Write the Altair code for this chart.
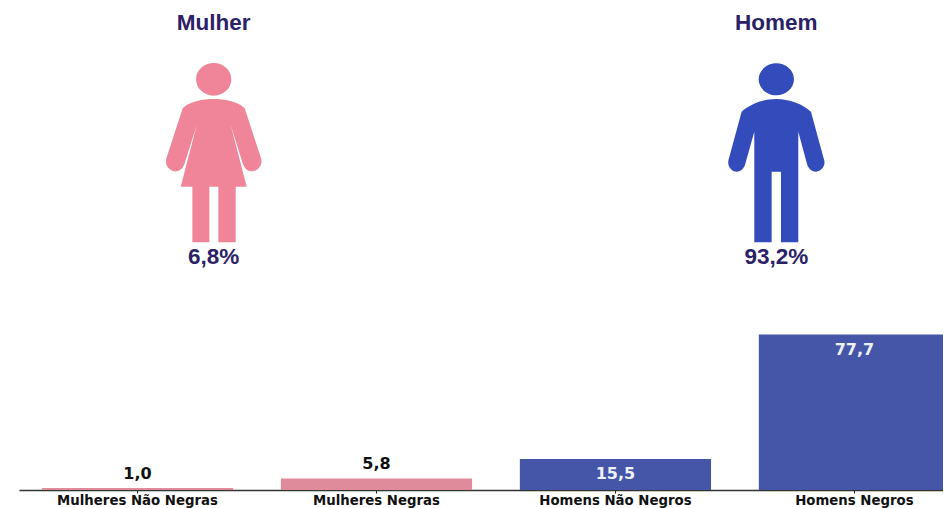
import altair as alt
import pandas as pd

categories = ["Mulheres Não Negras", "Mulheres Negras", "Homens Não Negros", "Homens Negros"]
values = [1.0, 5.8, 15.5, 77.7]
value_labels = ["1,0", "5,8", "15,5", "77,7"]
bar_colors = ["#e08b9b", "#e08b9b", "#4556a9", "#4556a9"]
inside = [False, False, True, True]

group_names = ["Mulher", "Homem"]
group_pcts = ["6,8%", "93,2%"]
group_colors = ["#f08599", "#334bbb"]


def make_path(cmds, cx, cy, unit=100.0):
    out = []
    for cmd in cmds:
        letter, nums = cmd[0], cmd[1:]
        pts = []
        for i in range(0, len(nums), 2):
            pts.append(f"{(nums[i] - cx) / unit:.3f} {(nums[i + 1] - cy) / unit:.3f}")
        out.append(letter + " ".join(pts))
    return "".join(out)


def head(cx, cy, rx, ry):
    k = 0.5523
    return [
        ("M", cx - rx, cy),
        ("C", cx - rx, cy - k * ry, cx - k * rx, cy - ry, cx, cy - ry),
        ("C", cx + k * rx, cy - ry, cx + rx, cy - k * ry, cx + rx, cy),
        ("C", cx + rx, cy + k * ry, cx + k * rx, cy + ry, cx, cy + ry),
        ("C", cx - k * rx, cy + ry, cx - rx, cy + k * ry, cx - rx, cy),
        ("Z",),
    ]


woman = head(221, 238, 53, 49) + [
    ("M", 221, 297),
    ("C", 190, 297, 150, 303, 128, 325),
    ("L", 80, 472),
    ("C", 70, 500, 95, 515, 108, 514),
    ("C", 122, 514, 130, 503, 134, 490),
    ("L", 170, 375),
    ("L", 122, 560),
    ("L", 157, 560),
    ("L", 157, 727),
    ("L", 208, 727),
    ("L", 208, 560),
    ("L", 235, 560),
    ("L", 235, 727),
    ("L", 287, 727),
    ("L", 287, 560),
    ("L", 320, 560),
    ("L", 272, 375),
    ("L", 308, 490),
    ("C", 312, 503, 320, 514, 334, 514),
    ("C", 348, 515, 372, 500, 362, 472),
    ("L", 314, 325),
    ("C", 292, 303, 252, 297, 221, 297),
    ("Z",),
]
man = head(229, 238, 53, 48) + [
    ("M", 229, 297),
    ("C", 190, 297, 150, 312, 125, 335),
    ("L", 87, 475),
    ("C", 78, 500, 98, 515, 110, 515),
    ("C", 122, 515, 131, 506, 135, 495),
    ("L", 163, 395),
    ("L", 163, 727),
    ("L", 215, 727),
    ("L", 215, 515),
    ("L", 243, 515),
    ("L", 243, 727),
    ("L", 295, 727),
    ("L", 295, 395),
    ("L", 322, 495),
    ("C", 326, 506, 336, 515, 348, 515),
    ("C", 360, 515, 381, 500, 371, 475),
    ("L", 333, 335),
    ("C", 308, 312, 268, 297, 229, 297),
    ("Z",),
]
icons = [make_path(woman, 221, 458), make_path(man, 229, 458)]

df = pd.DataFrame(
    {"cat": categories, "val": values, "lab": value_labels, "color": bar_colors, "inside": inside}
)

x = alt.X(
    "cat:N",
    sort=categories,
    title=None,
    scale=alt.Scale(paddingInner=0.2, paddingOuter=0.048, align=1, range=[0, 931]),
    axis=alt.Axis(
        labelAngle=0,
        labelFont="DejaVu Sans",
        labelFontWeight="bold",
        labelFontSize=13.3,
        labelColor="#111111",
        labelPadding=0,
        labelOverlap=False,
        tickSize=3,
        tickColor="#222222",
        domainColor="#333333",
        domainWidth=1.5,
        grid=False,
    ),
)
y = alt.Y("val:Q", title=None, scale=alt.Scale(domain=[0, 241], nice=False), axis=None)

bars = alt.Chart(df).mark_bar().encode(x=x, y=y, color=alt.Color("color:N", scale=None, legend=None))

text_base = dict(font="DejaVu Sans", fontWeight="bold", fontSize=16, baseline="middle", align="center")
outer_text = (
    alt.Chart(df[~df["inside"]])
    .mark_text(dy=-14, color="#111111", **text_base)
    .encode(x=alt.X("cat:N", sort=categories), y=y, text="lab:N")
)
inner_text = (
    alt.Chart(df[df["inside"]])
    .mark_text(dy=15, color="#eef0fa", **text_base)
    .encode(x=alt.X("cat:N", sort=categories), y=y, text="lab:N")
)

layers = [bars, outer_text, inner_text]

one = pd.DataFrame({"k": [0]})
icon_x = [194.7, 757.3]
for name, pct, color, icon, cx in zip(group_names, group_pcts, group_colors, icons, icon_x):
    layers.append(
        alt.Chart(one)
        .mark_point(filled=True, shape=icon, size=4444, color=color, opacity=1, strokeWidth=0)
        .encode(x=alt.value(cx), y=alt.value(144.7))
    )
    for txt, ty in ((name, 15), (pct, 249)):
        layers.append(
            alt.Chart(one)
            .mark_text(
                text=txt,
                font="Liberation Sans",
                fontWeight="bold",
                fontSize=22.5,
                color="#2b2166",
                baseline="middle",
                align="center",
            )
            .encode(x=alt.value(cx), y=alt.value(ty))
        )

chart = (
    alt.layer(*layers)
    .resolve_scale(x="shared", y="shared")
    .properties(
        width=924,
        height=482,
        background="white",
        padding={"left": 11, "top": 0, "right": 0, "bottom": 18},
        autosize=alt.AutoSizeParams(type="none"),
    )
    .configure_view(stroke=None)
)

chart.save("out.html", embed_options={"renderer": "svg", "actions": False})
